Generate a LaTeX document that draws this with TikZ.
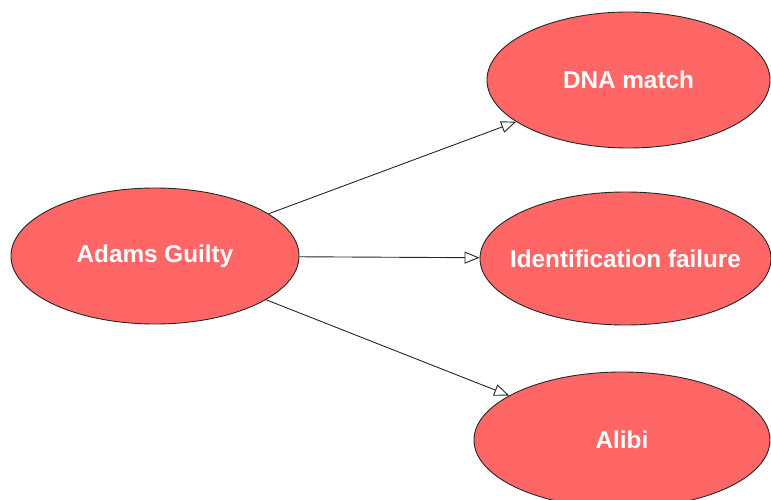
\documentclass[tikz,border=0pt]{standalone}
\usepackage{fontspec}
\setmainfont{Liberation Sans}
\usetikzlibrary{shapes.geometric,arrows.meta}
\definecolor{nodered}{HTML}{FF6666}
\tikzset{
  claim/.style={ellipse, draw=black!85, line width=0.9pt, fill=nodered, inner xsep=-30pt, inner ysep=0pt,
    text=white, font=\fontsize{24.3}{28}\selectfont\bfseries},
  link/.style={draw=black!85, line width=0.9pt,
    -{Triangle[open, length=15pt, width=12pt, fill=white]}}
}
\begin{document}
\begin{tikzpicture}[x=1pt,y=-1pt]
\useasboundingbox (0,0) rectangle (771,500);
\clip (0,0) rectangle (771,500);
\node[claim, minimum width=288pt, minimum height=136pt] (adams) at (155,256) {Adams Guilty};
\node[claim, minimum width=283pt, minimum height=136pt] (dna) at (628.5,80) {DNA match};
\node[claim, minimum width=291pt, minimum height=133pt] (ident) at (625.5,258.5) {Identification failure};
\node[claim, minimum width=296pt, minimum height=136pt] (alibi) at (622,440) {Alibi};
\draw[link] (adams) -- (dna);
\draw[link] (adams) -- (ident);
\draw[link] (adams) -- (alibi);
\end{tikzpicture}
\end{document}
